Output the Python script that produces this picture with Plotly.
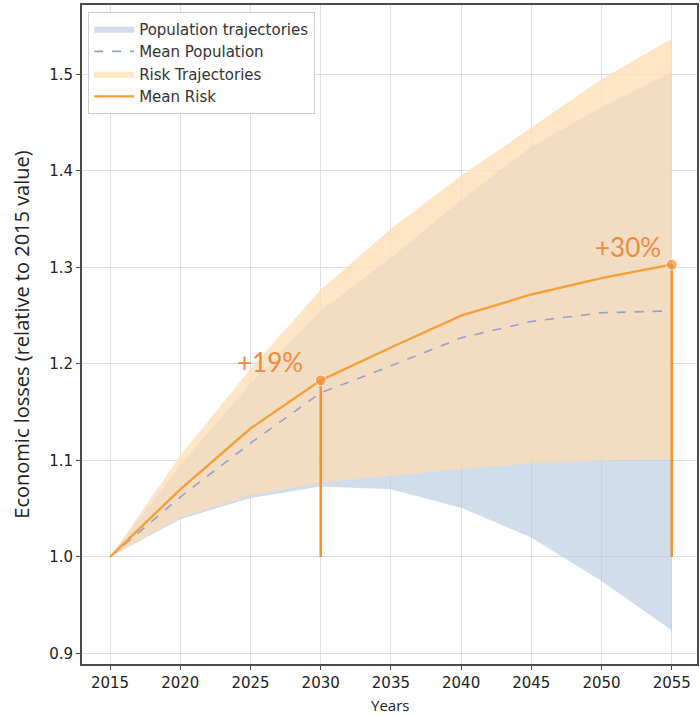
import plotly.graph_objects as go

years = [2015, 2020, 2025, 2030, 2035, 2040, 2045, 2050, 2055]
pop_mean = [1.0, 1.062, 1.118, 1.170, 1.198, 1.227, 1.244, 1.253, 1.255]
pop_low = [1.0, 1.039, 1.061, 1.073, 1.070, 1.051, 1.020, 0.975, 0.924]
pop_high = [1.0, 1.095, 1.180, 1.255, 1.310, 1.370, 1.425, 1.466, 1.502]
risk_mean = [1.0, 1.070, 1.133, 1.183, 1.217, 1.250, 1.272, 1.289, 1.303]
risk_low = [1.0, 1.041, 1.064, 1.077, 1.084, 1.091, 1.097, 1.100, 1.101]
risk_high = [1.0, 1.105, 1.195, 1.277, 1.340, 1.395, 1.445, 1.495, 1.537]

highlight_years = [2030, 2055]
highlight_labels = ["+19%", "+30%"]
y_ticks = [0.9, 1.0, 1.1, 1.2, 1.3, 1.4, 1.5]
x_ticks = years

BLUE_FILL = "rgba(182,200,223,0.62)"
ORANGE_FILL = "rgba(253,221,181,0.77)"
RISK_LINE = "#f4a03c"
PEAK = "#f0903c"
DASH = "#98a0cc"

fig = go.Figure()

fig.add_trace(go.Scatter(
    x=years + years[::-1], y=pop_high + pop_low[::-1],
    fill="toself", fillcolor=BLUE_FILL, line=dict(width=0),
    mode="lines", name="Population trajectories", legendrank=1, hoverinfo="skip"))
fig.add_trace(go.Scatter(
    x=years + years[::-1], y=risk_high + risk_low[::-1],
    fill="toself", fillcolor=ORANGE_FILL, line=dict(width=0),
    mode="lines", name="Risk Trajectories", legendrank=3, hoverinfo="skip"))
fig.add_trace(go.Scatter(
    x=years, y=pop_mean, mode="lines", name="Mean Population",
    line=dict(color=DASH, width=1.6, dash="dash"), legendrank=2))
fig.add_trace(go.Scatter(
    x=years, y=risk_mean, mode="lines", name="Mean Risk",
    line=dict(color=RISK_LINE, width=2.4), legendrank=4))

shifts = [(-16, 0), (-9, 0)]
for yr, lab, (dx, dy) in zip(highlight_years, highlight_labels, shifts):
    v = risk_mean[years.index(yr)]
    fig.add_trace(go.Scatter(
        x=[yr, yr], y=[1.0, v], mode="lines+markers",
        line=dict(color=PEAK, width=2.5),
        marker=dict(size=[0, 11], color=PEAK),
        showlegend=False, hoverinfo="skip"))
    fig.add_annotation(
        x=yr, y=v, text=lab, showarrow=False, xanchor="right", yanchor="bottom",
        xshift=dx, yshift=dy,
        font=dict(family="Lato, Open Sans, sans-serif", size=26, color="#ec8a44"))

# x-axis title
fig.add_annotation(
    x=0.5, y=0, xref="paper", yref="paper", text="Years", showarrow=False,
    xanchor="center", yanchor="top", yshift=-30, borderpad=0,
    font=dict(family="Open Sans", size=15, color="#222"))

axis_common = dict(
    showline=True, mirror=True, linecolor="#4a4a4a", linewidth=1.8,
    ticks="outside", ticklen=4, tickcolor="#4a4a4a",
    showgrid=True, gridcolor="#e0e0e0", gridwidth=1, zeroline=False,
    tickfont=dict(family="DejaVu Sans", size=15, color="#222"),
)

fig.update_xaxes(range=[2013.0, 2056.8], tickvals=x_ticks, **axis_common)
fig.update_yaxes(
    range=[0.889, 1.572], tickvals=y_ticks, tickformat=".1f",
    title=dict(text="Economic losses (relative to 2015 value)",
               font=dict(family="Open Sans", size=20, color="#222"), standoff=14),
    **axis_common)

fig.update_layout(
    width=700, height=716,
    margin=dict(l=82, r=3, t=5, b=52, autoexpand=False),
    plot_bgcolor="white", paper_bgcolor="white",
    legend=dict(
        x=0.01, y=0.99, xanchor="left", yanchor="top",
        bgcolor="white", bordercolor="#cccccc", borderwidth=1,
        font=dict(family="DejaVu Sans", size=15, color="#333"),
        traceorder="normal", itemwidth=40, tracegroupgap=0,
    ),
)

fig.write_html("out.html", config={"displayModeBar": False},
               post_script="document.body.style.margin='0px';")
